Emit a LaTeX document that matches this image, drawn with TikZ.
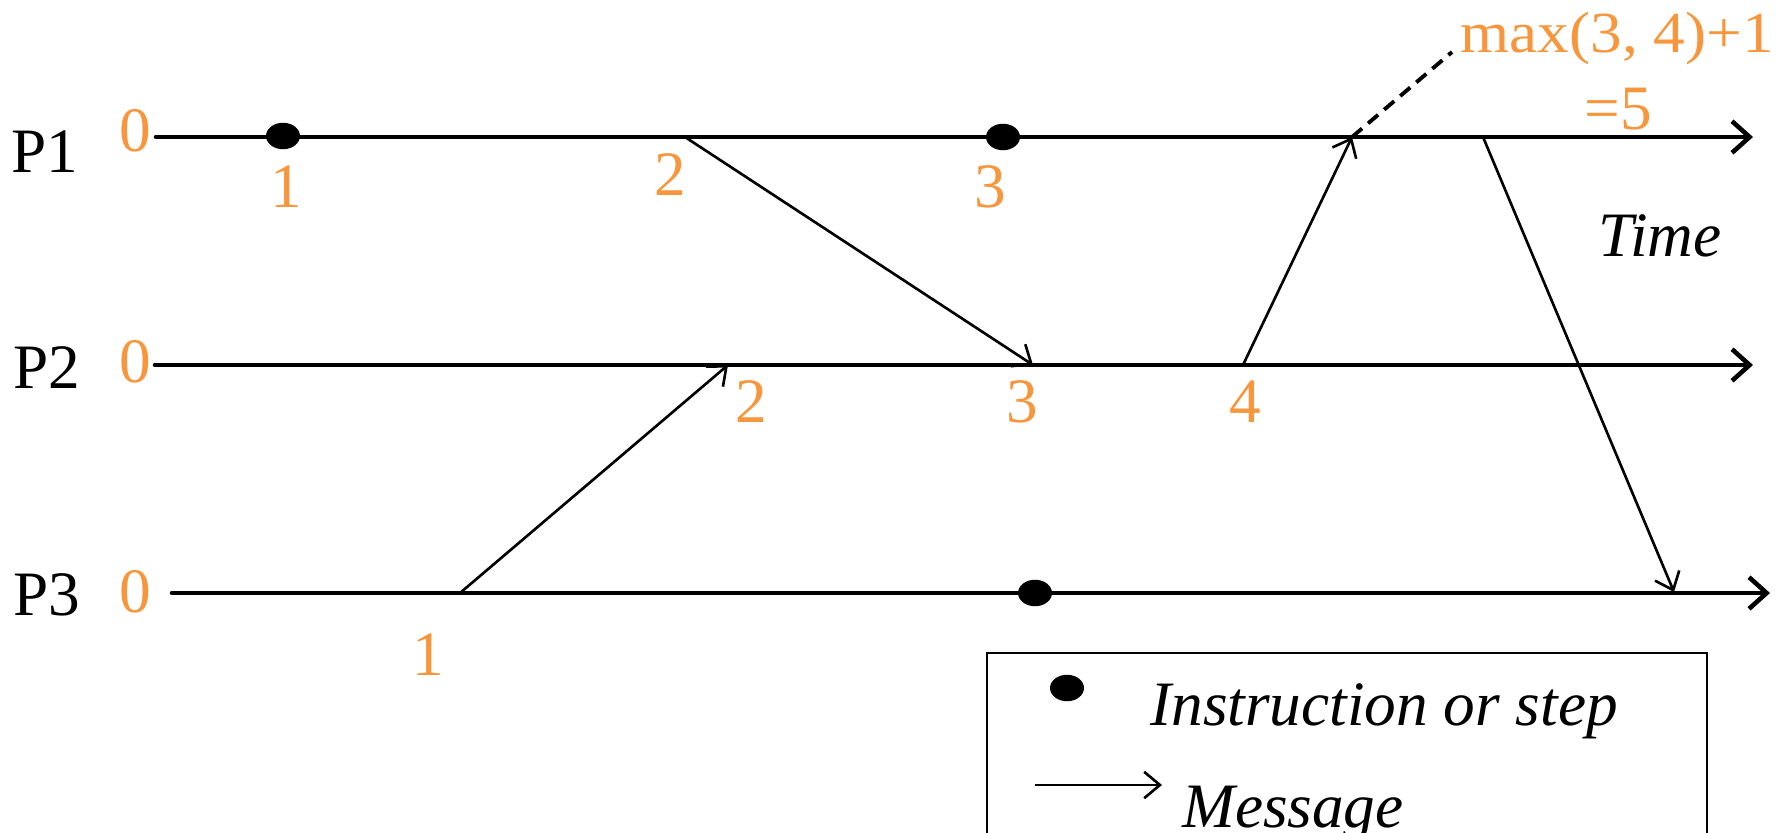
\documentclass[tikz,border=0pt]{standalone}
\usepackage{fontspec, graphicx, xcolor}
\setmainfont{Liberation Serif}
\usetikzlibrary{arrows.meta, shapes.geometric}
\definecolor{stamp}{RGB}{247,150,60}

\begin{document}
\begin{tikzpicture}[x=0.02cm, y=-0.02cm,
  every node/.style={font=\fontsize{36}{40}\selectfont, inner sep=0pt},
  clock/.style={text=stamp},
  timeline/.style={line width=2.6pt, line cap=round, -{Straight Barb[length=10pt, width=18pt]}},
  msg/.style={line width=1.5pt, -{Straight Barb[length=9pt, width=15pt]}},
  instr/.style={ellipse, fill=black, minimum width=0.68cm, minimum height=0.53cm}]
  \useasboundingbox (0,0) rectangle (1791,832);
  % Processes
  \node (P1) at (45,152) {P1};
  \node (P2) at (47,368) {P2};
  \node (P3) at (47,595) {P3};
  % Initial clocks
  \node[clock] (c10) at (135,131) {0};
  \node[clock] (c20) at (135,362) {0};
  \node[clock] (c30) at (135,592) {0};
  % Time lines
  \coordinate (P1s) at (156,137); \coordinate (P1e) at (1753,137);
  \coordinate (P2s) at (155,365); \coordinate (P2e) at (1753,365);
  \coordinate (P3s) at (172,593); \coordinate (P3e) at (1770,593);
  \draw[timeline] (P1s) -- (P1e);
  \draw[timeline] (P2s) -- (P2e);
  \draw[timeline] (P3s) -- (P3e);
  % Events on the time lines
  \coordinate (e12) at (685,137);
  \coordinate (e15) at (1352,137);
  \coordinate (e16) at (1483,137);
  \coordinate (e22) at (728,365);
  \coordinate (e23) at (1033,365);
  \coordinate (e24) at (1243,365);
  \coordinate (e31) at (460,593);
  \coordinate (e3x) at (1674,592);
  % Steps
  \node[instr] (s11) at (283,136) {};
  \node[instr] (s13) at (1003,137) {};
  \node[instr] (s3) at (1035,593) {};
  % Messages
  \draw[msg] (e12) -- (e23);
  \draw[msg] (e31) -- (e22);
  \draw[msg] (e24) -- (e15);
  \draw[msg] (e16) -- (e3x);
  % Clock values
  \node[clock] (c11) at (286,187) {1};
  \node[clock] (c12) at (670,175) {2};
  \node[clock] (c13) at (990,187) {3};
  \node[clock] (c22) at (751,402) {2};
  \node[clock] (c23) at (1022,402) {3};
  \node[clock] (c24) at (1245,402) {4};
  \node[clock] (c31) at (428,655) {1};
  % Received clock on P1
  \coordinate (note) at (1452,52);
  \draw[line width=2.2pt, dash pattern=on 7.5pt off 4.5pt] (e15) -- (note);
  \node[clock] (cmax) at (1617,39) {\scalebox{1}[0.92]{max(3, 4)+1}};
  \node[clock] (ceq) at (1618,109) {=5};
  \node (time) at (1660,236) {\itshape Time};
  % Legend
  \draw[line width=0.9pt] (987,860) -- (987,653) -- (1707,653) -- (1707,860);
  \node[instr] (legdot) at (1067,688) {};
  \node[anchor=base west] (legstep) at (1150,725) {\itshape Instruction or step};
  \coordinate (legA) at (1035,785); \coordinate (legB) at (1162,785);
  \draw[msg] (legA) -- (legB);
  \node[anchor=base west] (legmsg) at (1182,827) {\itshape Message};
\end{tikzpicture}
\end{document}
